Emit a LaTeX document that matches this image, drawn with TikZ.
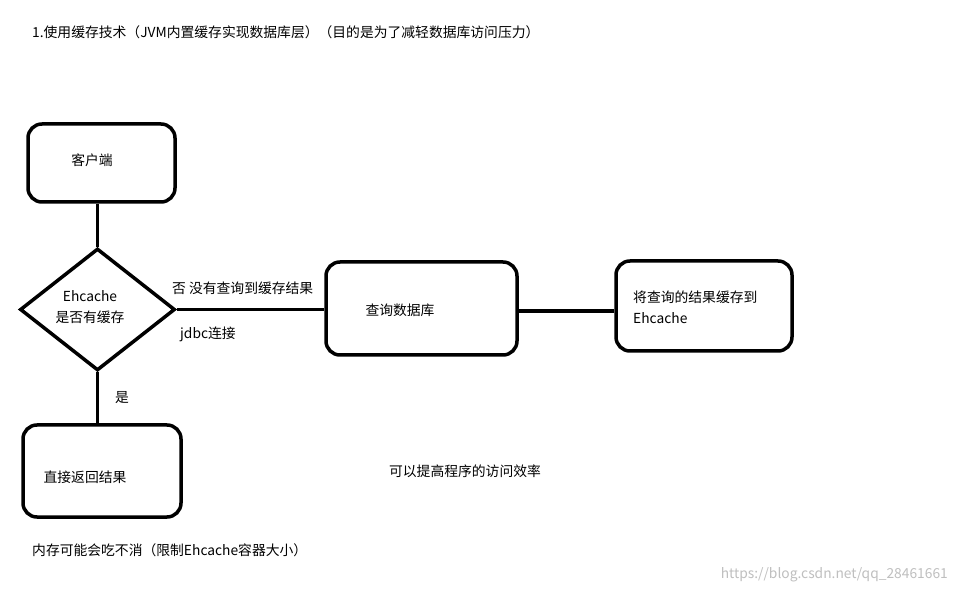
\documentclass[tikz,border=0pt]{standalone}
\usepackage{fontspec}
\setmainfont{Noto Sans CJK SC}
\usetikzlibrary{shapes.geometric}
\tikzset{
  box/.style={draw,line width=3.5pt,rounded corners=14pt,inner sep=0pt},
  txt/.style={font=\fontsize{13.8}{16}\selectfont,inner sep=0pt},
  link/.style={line width=3.5pt}
}
\begin{document}
\begin{tikzpicture}[x=1pt,y=-1pt]
\useasboundingbox[fill=white] (0,0) rectangle (956,593);
\node[txt,anchor=west] (title) at (32,32) {1.使用缓存技术（JVM内置缓存实现数据库层）（目的是为了减轻数据库访问压力）};
% boxes
\node[box,minimum width=147pt,minimum height=78pt] (client) at (101.5,163) {};
\node[txt] at (92,160) {客户端};
\node[draw,line width=3.5pt,diamond,minimum width=155pt,minimum height=122pt,inner sep=0pt] (check) at (97.5,309.5) {};
\node[txt,align=center] at (90,307) {Ehcache\\[5pt]是否有缓存};
\node[box,minimum width=158pt,minimum height=92pt] (direct) at (102,471) {};
\node[txt] at (85,477) {直接返回结果};
\node[box,minimum width=191pt,minimum height=93pt] (db) at (421.5,308.5) {};
\node[txt] at (400,310) {查询数据库};
\node[box,minimum width=176pt,minimum height=90pt] (store) at (704,306) {};
\node[txt,anchor=west,align=left] at (633,307) {将查询的结果缓存到\\[5pt]Ehcache};
% connectors
\draw[link] (check.north |- client.south) -- (check.north);
\draw[link] (check.south) -- (check.south |- direct.north);
\draw[link] (check.east) -- (check.east -| db.west);
\draw[link] (store.west |- 0,311) -- (db.east |- 0,311);
% labels
\node[txt] at (122,398) {是};
\node[txt,anchor=west] at (172,288) {否 没有查询到缓存结果};
\node[txt,anchor=west] at (180,334) {jdbc连接};
\node[txt] at (465,471) {可以提高程序的访问效率};
\node[txt,anchor=west] at (32,550) {内存可能会吃不消（限制Ehcache容器大小）};
\node[txt,text=black!25,anchor=east] at (948,575) {https://blog.csdn.net/qq\_28461661};
\end{tikzpicture}
\end{document}
